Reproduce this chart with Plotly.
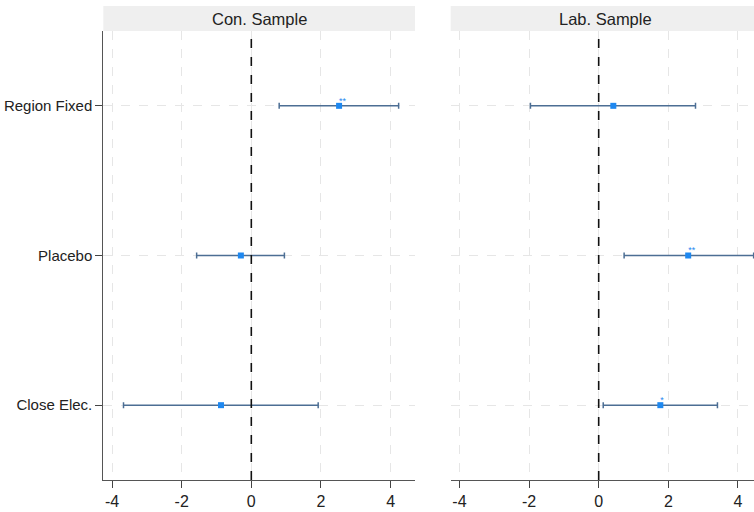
import plotly.graph_objects as go

categories = ["Region Fixed", "Placebo", "Close Elec."]
panels = ["Con. Sample", "Lab. Sample"]

con_est = [2.52, -0.30, -0.87]
con_lo = [0.80, -1.57, -3.67]
con_hi = [4.23, 0.95, 1.92]
con_sig = ["**", "", ""]

lab_est = [0.42, 2.57, 1.77]
lab_lo = [-1.96, 0.73, 0.13]
lab_hi = [2.78, 4.45, 3.41]
lab_sig = ["", "**", "*"]

x_ticks = [-4, -2, 0, 2, 4]
x_ticktext = ["-4", "-2", "0", "2", "4"]

W, H = 754, 512
def px_x(x):
    return x / W
def px_y(y):
    return (H - y) / H

top_px, bot_px = 31, 480
ydom = [px_y(bot_px), px_y(top_px)]
dom1 = [px_x(103.3), px_x(415)]
dom2 = [px_x(450.7), 1.0]

fig = go.Figure()
err_col = "#4C6E94"
pt_col = "#1E88F0"

data = [(con_est, con_lo, con_hi, con_sig, "x", "y"),
        (lab_est, lab_lo, lab_hi, lab_sig, "x2", "y2")]
for est, lo, hi, sig, xa, ya in data:
    fig.add_trace(go.Scatter(
        x=est, y=categories, xaxis=xa, yaxis=ya, mode="markers",
        marker=dict(symbol="square", size=6, color=pt_col),
        error_x=dict(type="data", symmetric=False,
                     array=[h - e for h, e in zip(hi, est)],
                     arrayminus=[e - l for e, l in zip(est, lo)],
                     color=err_col, thickness=1.5, width=3),
        showlegend=False, hoverinfo="skip", cliponaxis=False))
    fig.add_trace(go.Scatter(
        x=est, y=categories, xaxis=xa, yaxis=ya, mode="text",
        text=sig, textposition="top right",
        textfont=dict(size=9, color=pt_col, family="Liberation Sans"),
        showlegend=False, hoverinfo="skip"))

xcommon = dict(range=[-4.25, 4.70], tickvals=x_ticks, ticktext=x_ticktext,
               ticks="outside", ticklen=7,
               tickcolor="#444", showline=True, linecolor="#555", linewidth=1,
               showgrid=True, gridcolor="#E6E6E6", griddash="dash", gridwidth=1,
               zeroline=False, tickfont=dict(size=16, color="#222"), automargin=False)
fig.update_layout(
    width=W, height=H, margin=dict(l=0, r=0, t=0, b=0, autoexpand=False),
    plot_bgcolor="white", paper_bgcolor="white",
    font=dict(family="Liberation Sans", color="#222"),
    xaxis=dict(xcommon, domain=dom1, anchor="y"),
    xaxis2=dict(xcommon, domain=dom2, anchor="y2", range=[-4.25, 4.46]),
    yaxis=dict(domain=ydom, anchor="x", type="category",
               categoryorder="array", categoryarray=categories,
               range=[2.5, -0.5], showline=True, linecolor="#555", linewidth=1,
               ticks="outside", ticklen=7, tickcolor="#444",
               showgrid=True, gridcolor="#E6E6E6", griddash="dash",
               tickfont=dict(size=15, color="#222"), zeroline=False, automargin=False),
    yaxis2=dict(domain=ydom, anchor="x2", type="category",
                categoryorder="array", categoryarray=categories,
                range=[2.5, -0.5], showline=False, showticklabels=False,
                ticks="", showgrid=True, gridcolor="#E6E6E6", griddash="dash",
                zeroline=False, automargin=False),
)

strip_y0 = px_y(top_px)
strip_y1 = px_y(6)
title_x = [(dom1[0] + dom1[1]) / 2, (dom2[0] + dom2[1]) / 2 + 3 / W]
for dom, title, tx, xa, ya in [(dom1, panels[0], title_x[0], "x", "y"),
                               (dom2, panels[1], title_x[1], "x2", "y2")]:
    fig.add_shape(type="rect", xref="paper", yref="paper",
                  x0=dom[0], x1=dom[1], y0=strip_y0, y1=strip_y1,
                  fillcolor="#EFEFEF", line=dict(width=0), layer="below")
    fig.add_annotation(text=title, xref="paper", yref="paper",
                       x=tx, y=(strip_y0 + strip_y1) / 2, showarrow=False,
                       font=dict(size=16.5, color="#222"), xanchor="center", yanchor="middle")
    fig.add_shape(type="line", xref=xa, yref=f"{ya} domain", x0=0, x1=0, y0=0, y1=1,
                  line=dict(color="#111", width=1.6, dash="dash"), layer="above")

fig.write_html("out.html", config={"displayModeBar": False},
               post_script="document.body.style.margin='0';document.body.style.overflow='hidden';")
